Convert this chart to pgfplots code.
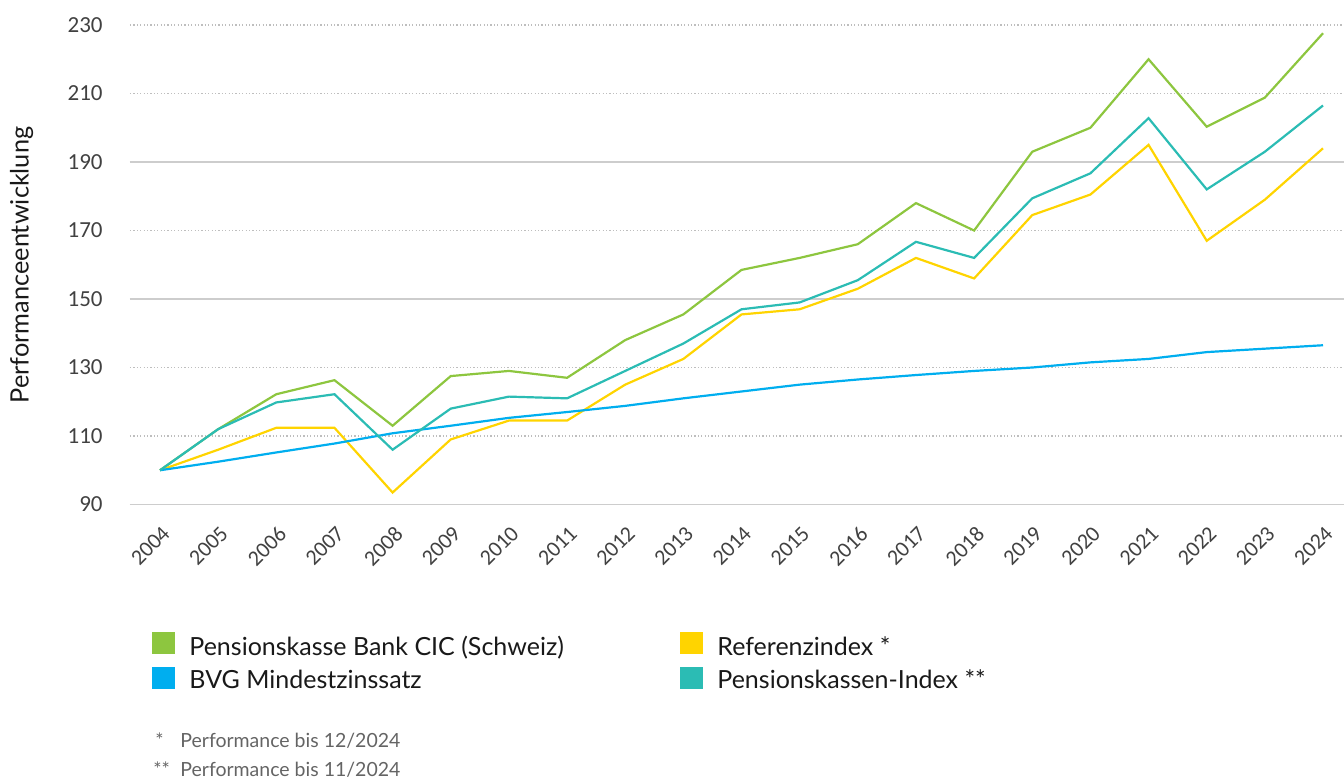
\documentclass[border=0pt]{standalone}
\usepackage{pgfplots}
\pgfplotsset{compat=1.18}
\usepackage{pgfplotstable}
\usepackage{fontspec}
\setmainfont{Lato}
\newfontfamily\carlito{Carlito}
\definecolor{cgreen}{RGB}{141,198,63}
\definecolor{cblue}{RGB}{0,174,239}
\definecolor{cyellow}{RGB}{255,212,0}
\definecolor{cteal}{RGB}{43,188,180}
\definecolor{gridc}{RGB}{190,190,190}
\definecolor{gridd}{RGB}{205,205,205}
\definecolor{tickc}{RGB}{65,65,65}
\definecolor{notec}{RGB}{100,100,100}

\pgfplotstableread{
x green yellow blue teal
0 100 100 100 100
1 112 106 102.5 112
2 122.2 112.4 105.2 119.8
3 126.3 112.4 107.8 122.2
4 113 93.5 110.8 106
5 127.5 109 113 118
6 129 114.5 115.3 121.5
7 127 114.5 117 121
8 138 125 118.8 129
9 145.5 132.5 121 137
10 158.5 145.5 123 147
11 162 147 125 149
12 166 153 126.5 155.5
13 178 162 127.8 166.7
14 170 156 129 162
15 193 174.5 130 179.4
16 200 180.5 131.5 186.7
17 220 195 132.5 202.8
18 200.3 167 134.5 182
19 208.8 179 135.5 193
20 227.6 194 136.5 206.5
}\data

\begin{document}
\begin{tikzpicture}
\useasboundingbox (0,0) rectangle (672pt,-391.5pt);
\begin{axis}[
  at={(65pt,-252.25pt)}, anchor=south west,
  scale only axis, width=607pt, height=239.75pt,
  xmin=-0.516, xmax=20.361, ymin=90, ymax=230,
  axis line style={draw=none},
  ytick={90,110,...,230},
  xtick={0,...,20},
  xticklabels={2004,2005,2006,2007,2008,2009,2010,2011,2012,2013,2014,2015,2016,2017,2018,2019,2020,2021,2022,2023,2024},
  tick style={draw=none},
  ymajorgrids,
  major grid style={draw=gridc, line width=0.7pt, dash pattern=on 0.6pt off 1.1pt},
  extra y ticks={90,150,190},
  extra y tick labels={},
  extra y tick style={major grid style={draw=gridd, line width=0.9pt, solid}},
  /pgf/number format/assume math mode=true,
  yticklabel style={font=\carlito\fontsize{11.5}{12}\selectfont, text=tickc, anchor=east, inner sep=0pt, xshift=-13.5pt},
  xticklabel style={font=\carlito\fontsize{11}{12}\selectfont, text=tickc, xshift=0.5pt, yshift=-10pt, rotate=45, anchor=north east, inner sep=0pt},
  clip=false,
]
\addplot[cgreen, line width=1.1pt] table[x=x, y=green] {\data};
\addplot[cyellow, line width=1.1pt] table[x=x, y=yellow] {\data};
\addplot[cblue, line width=1.1pt] table[x=x, y=blue] {\data};
\addplot[cteal, line width=1.1pt] table[x=x, y=teal] {\data};
\end{axis}
\node[rotate=90, inner sep=0pt, font=\fontsize{12.65}{14}\selectfont, text=black!90] at (10.75pt,-132.5pt) {Performanceentwicklung};
% legend
\fill[cgreen] (76pt,-316pt) rectangle (87.5pt,-327pt);
\fill[cblue] (76pt,-333.5pt) rectangle (87.5pt,-344.5pt);
\fill[cyellow] (340pt,-316pt) rectangle (351.5pt,-327pt);
\fill[cteal] (340pt,-333.5pt) rectangle (351.5pt,-344.5pt);
\begin{scope}[every node/.style={anchor=base west, inner sep=0pt, font=\fontsize{12.5}{14}\selectfont, text=black!90}]
\node at (94.5pt,-327.5pt) {Pensionskasse Bank CIC (Schweiz)};
\node at (94.5pt,-344pt) {BVG Mindestzinssatz};
\node at (358.5pt,-327.5pt) {Referenzindex *};
\node at (358.5pt,-344pt) {Pensionskassen-Index **};
\end{scope}
\begin{scope}[every node/.style={anchor=base west, inner sep=0pt, font=\fontsize{9.75}{12}\selectfont, text=notec}]
\node at (77.5pt,-373.5pt) {*};
\node at (90pt,-373.5pt) {Performance bis 12/2024};
\node at (76.5pt,-388pt) {**};
\node at (90pt,-388pt) {Performance bis 11/2024};
\end{scope}
\end{tikzpicture}
\end{document}
